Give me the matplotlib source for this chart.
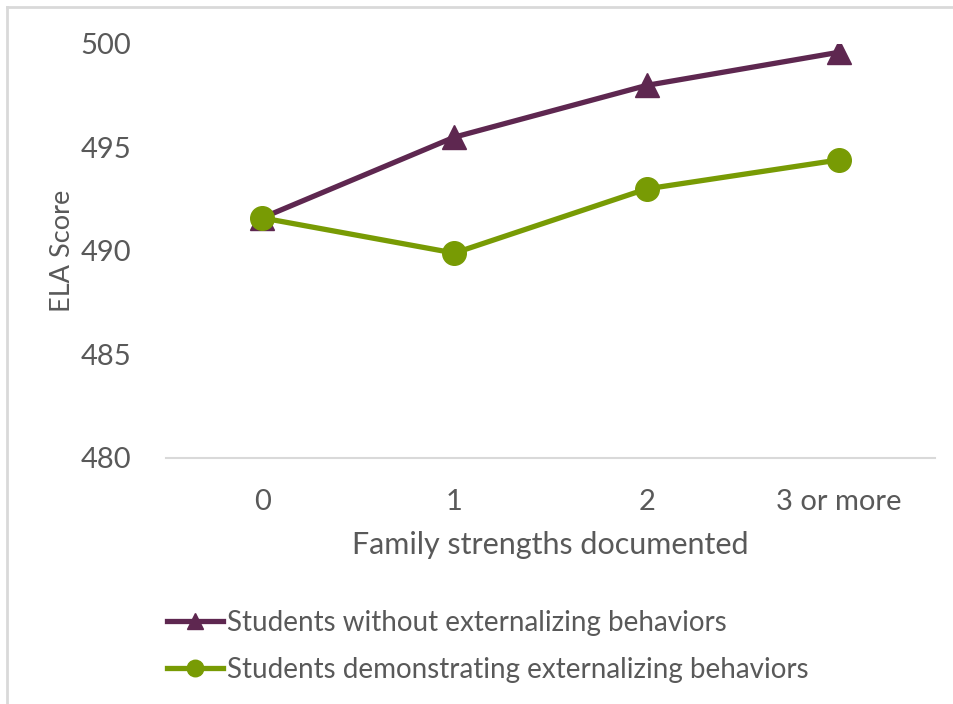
import matplotlib
matplotlib.use("Agg")
import matplotlib.pyplot as plt
from matplotlib.lines import Line2D

plt.rcParams["font.family"] = ["Lato", "DejaVu Sans"]

categories = ["0", "1", "2", "3 or more"]
without_ext = [491.6, 495.5, 498.0, 499.6]
with_ext = [491.6, 489.9, 493.0, 494.4]

purple = "#5E2750"
green = "#789B04"
text_gray = "#595959"

fig = plt.figure(figsize=(9.54, 7.04), dpi=100)
ax = fig.add_axes([166 / 954, 1 - 458 / 704, (935 - 166) / 954, (458 - 44) / 704])

x = list(range(len(categories)))
ax.plot(x, without_ext, color=purple, lw=3.8, marker="^", ms=17,
        label="Students without externalizing behaviors", zorder=3)
ax.plot(x, with_ext, color=green, lw=3.8, marker="o", ms=17,
        label="Students demonstrating externalizing behaviors", zorder=4)

ax.set_xlim(-0.5, 3.5)
ax.set_ylim(480, 500)
ax.set_yticks([480, 485, 490, 495, 500])
ax.set_xticks(x)
ax.set_xticklabels(categories)
for s in ["top", "right", "left"]:
    ax.spines[s].set_visible(False)
ax.spines["bottom"].set_color("#d9d9d9")
ax.spines["bottom"].set_linewidth(1.5)
ax.tick_params(length=0, labelsize=21, colors=text_gray)
ax.tick_params(axis="y", pad=25)
ax.tick_params(axis="x", pad=22)
ax.set_xlabel("Family strengths documented", fontsize=22, color=text_gray, labelpad=12)
ax.set_ylabel("ELA Score", fontsize=19.5, color=text_gray, labelpad=4)

fig.legend(loc="upper left", bbox_to_anchor=(142 / 954, 1 - 585 / 704), frameon=False,
           fontsize=20, labelcolor=text_gray, handlelength=2.0, handletextpad=0.15,
           labelspacing=0.75, markerscale=0.7)

# light frame on top and left edges
fig.add_artist(Line2D([7 / 954, 7 / 954], [0, 1 - 7 / 704], color="#d9d9d9", lw=2))
fig.add_artist(Line2D([7 / 954, 1], [1 - 7 / 704, 1 - 7 / 704], color="#d9d9d9", lw=2))

fig.savefig("out.png", dpi=100)
